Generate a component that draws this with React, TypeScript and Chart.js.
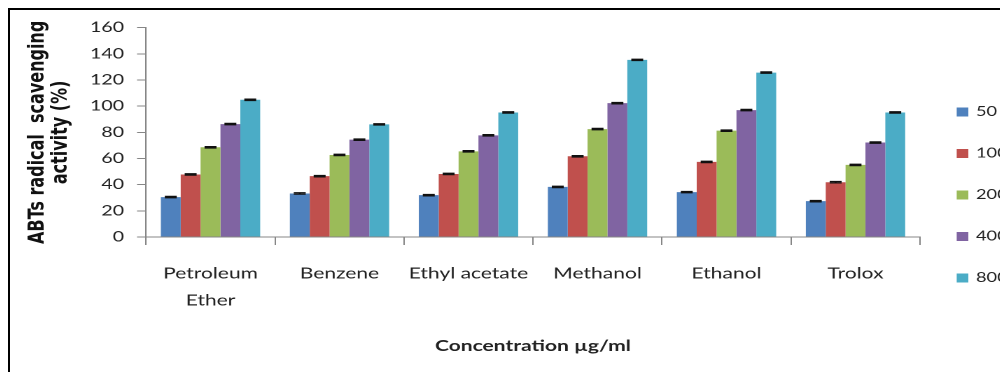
import React, { useEffect, useRef } from "react";
import { Chart, registerables } from "chart.js";

Chart.register(...registerables);

const categories: (string | string[])[] = [["Petroleum", "Ether"], "Benzene", "Ethyl acetate", "Methanol", "Ethanol", "Trolox"];
const seriesLabels = ["50", "100", "200", "400", "800"];
const s50 = [30.5, 33.3, 32.0, 38.3, 34.3, 27.4];
const s100 = [47.8, 46.5, 48.2, 61.7, 57.4, 41.9];
const s200 = [68.6, 62.7, 65.5, 82.5, 81.3, 55.1];
const s400 = [86.3, 74.4, 77.7, 102.3, 97.0, 72.2];
const s800 = [104.9, 86.1, 95.2, 135.4, 125.7, 95.2];
const errors = [0.5, 0.5, 0.5, 0.5, 0.5];
const colors = ["#4F81BD", "#C0504D", "#9BBB59", "#8064A2", "#4BACC6"];
const yTicks = { min: 0, max: 160, step: 20 };

const SX = 1.4; // horizontal stretch of the original picture
const LW = 750;
const LH = 362;
const FONT = "Lato, 'DejaVu Sans', sans-serif";

const errorBarPlugin = {
  id: "errorBars",
  afterDatasetsDraw(chart: any) {
    const ctx = chart.ctx;
    const y = chart.scales.y;
    chart.data.datasets.forEach((ds: any, di: number) => {
      const meta = chart.getDatasetMeta(di);
      const e = errors[di];
      meta.data.forEach((bar: any, i: number) => {
        const v = ds.data[i];
        const top = y.getPixelForValue(v + e);
        const bot = y.getPixelForValue(v - e);
        const half = bar.width * 0.3;
        ctx.save();
        ctx.strokeStyle = "#111";
        ctx.lineWidth = 1.3;
        ctx.beginPath();
        ctx.moveTo(bar.x, top);
        ctx.lineTo(bar.x, bot);
        ctx.moveTo(bar.x - half, top);
        ctx.lineTo(bar.x + half, top);
        ctx.moveTo(bar.x - half, bot);
        ctx.lineTo(bar.x + half, bot);
        ctx.stroke();
        ctx.restore();
      });
    });
  },
};

const legendPlugin = {
  id: "sideLegend",
  afterDraw(chart: any) {
    const ctx = chart.ctx;
    const boxX = (956.7 - 10) / SX;
    const textX = (976 - 10) / SX;
    ctx.save();
    chart.data.datasets.forEach((ds: any, i: number) => {
      const cy = 102 + 41.5 * i;
      ctx.fillStyle = ds.backgroundColor;
      ctx.fillRect(boxX, cy - 4.5, 8.3, 9);
      ctx.fillStyle = "#222";
      ctx.font = `13px ${FONT}`;
      ctx.textBaseline = "middle";
      ctx.textAlign = "left";
      ctx.fillText(ds.label, textX, cy);
    });
    ctx.restore();
  },
};

export default function App() {
  const ref = useRef<HTMLCanvasElement | null>(null);

  useEffect(() => {
    if (!ref.current) return;
    const series = [s50, s100, s200, s400, s800];
    const chart = new Chart(ref.current, {
      type: "bar",
      data: {
        labels: categories,
        datasets: series.map((d, i) => ({
          label: seriesLabels[i],
          data: d,
          backgroundColor: colors[i],
          borderWidth: 0,
          categoryPercentage: 0.77,
          barPercentage: 1.0,
        })),
      },
      options: {
        responsive: false,
        animation: false,
        devicePixelRatio: 2,
        layout: { padding: { left: 4, top: 16, right: LW - 650, bottom: 13 } },
        plugins: {
          legend: { display: false },
          tooltip: { enabled: false },
        },
        scales: {
          x: {
            grid: { display: true, drawOnChartArea: false, drawTicks: true, tickLength: 8, color: "#868686", offset: true },
            border: { display: true, color: "#868686", width: 1 },
            ticks: { color: "#222", padding: 15, font: { family: FONT, size: 15, lineHeight: 1.8 }, maxRotation: 0, autoSkip: false },
            title: {
              display: true,
              text: "Concentration µg/ml",
              color: "#222",
              font: { family: FONT, size: 15, weight: "bold", lineHeight: 1.2 },
              padding: { top: 8, bottom: 4 },
            },
          },
          y: {
            min: yTicks.min,
            max: yTicks.max,
            afterFit: (scale: any) => {
              scale.width = 136 / SX - 4;
            },
            grid: { display: true, drawOnChartArea: false, drawTicks: true, tickLength: 6.4, color: "#868686" },
            border: { display: true, color: "#868686", width: 1 },
            ticks: { stepSize: yTicks.step, color: "#222", padding: 9.3, font: { family: FONT, size: 14 } },
            title: {
              display: true,
              text: ["ABTs radical  scavenging", "activity (%)"],
              color: "#111",
              font: { family: "'DejaVu Sans', sans-serif", size: 16, weight: "bold", lineHeight: 1.05 },
              padding: { top: 7.2, bottom: 10 },
            },
          },
        },
      },
      plugins: [errorBarPlugin, legendPlugin],
    });
    return () => chart.destroy();
  }, []);

  return (
    <div
      style={{
        position: "relative",
        width: "1000px",
        height: "364px",
        boxSizing: "border-box",
        borderLeft: "2px solid #000",
        borderTop: "2px solid #000",
        overflow: "hidden",
        background: "#fff",
      }}
    >
      <canvas
        ref={ref}
        width={LW}
        height={LH}
        style={{ display: "block", width: `${LW * SX}px`, height: `${LH}px` }}
      />
    </div>
  );
}
